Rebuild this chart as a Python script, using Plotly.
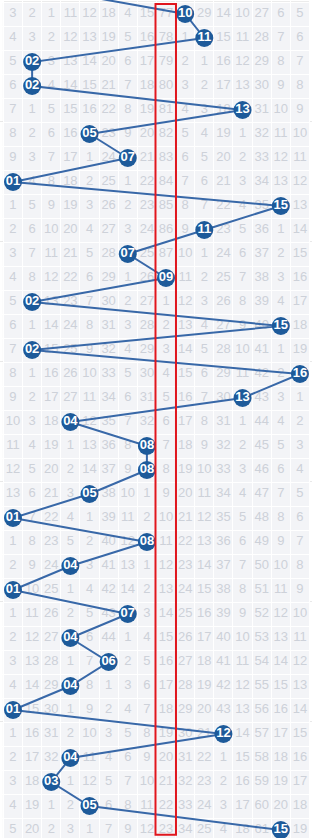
import plotly.graph_objects as go

# Winning number per draw (row 0 is the draw just above the visible area)
prev_draw = 3
draws = [10, 11, 2, 2, 13, 5, 7, 1, 15, 11, 7, 9, 2, 15, 2, 16, 13, 4, 8, 8,
         5, 1, 8, 4, 1, 7, 4, 6, 4, 1, 12, 4, 3, 5, 15]

# Omission counts shown in the cells (0 = drawn, ball shown instead)
grid = [
    [3, 2, 1, 11, 12, 18, 4, 15, 77, 0, 29, 14, 10, 27, 6, 5],
    [4, 3, 2, 12, 13, 19, 5, 16, 78, 1, 0, 15, 11, 28, 7, 6],
    [5, 0, 3, 13, 14, 20, 6, 17, 79, 2, 1, 16, 12, 29, 8, 7],
    [6, 0, 4, 14, 15, 21, 7, 18, 80, 3, 2, 17, 13, 30, 9, 8],
    [7, 1, 5, 15, 16, 22, 8, 19, 81, 4, 3, 18, 0, 31, 10, 9],
    [8, 2, 6, 16, 0, 23, 9, 20, 82, 5, 4, 19, 1, 32, 11, 10],
    [9, 3, 7, 17, 1, 24, 0, 21, 83, 6, 5, 20, 2, 33, 12, 11],
    [0, 4, 8, 18, 2, 25, 1, 22, 84, 7, 6, 21, 3, 34, 13, 12],
    [1, 5, 9, 19, 3, 26, 2, 23, 85, 8, 7, 22, 4, 35, 0, 13],
    [2, 6, 10, 20, 4, 27, 3, 24, 86, 9, 0, 23, 5, 36, 1, 14],
    [3, 7, 11, 21, 5, 28, 0, 25, 87, 10, 1, 24, 6, 37, 2, 15],
    [4, 8, 12, 22, 6, 29, 1, 26, 0, 11, 2, 25, 7, 38, 3, 16],
    [5, 0, 13, 23, 7, 30, 2, 27, 1, 12, 3, 26, 8, 39, 4, 17],
    [6, 1, 14, 24, 8, 31, 3, 28, 2, 13, 4, 27, 9, 40, 0, 18],
    [7, 0, 15, 25, 9, 32, 4, 29, 3, 14, 5, 28, 10, 41, 1, 19],
    [8, 1, 16, 26, 10, 33, 5, 30, 4, 15, 6, 29, 11, 42, 2, 0],
    [9, 2, 17, 27, 11, 34, 6, 31, 5, 16, 7, 30, 0, 43, 3, 1],
    [10, 3, 18, 0, 12, 35, 7, 32, 6, 17, 8, 31, 1, 44, 4, 2],
    [11, 4, 19, 1, 13, 36, 8, 0, 7, 18, 9, 32, 2, 45, 5, 3],
    [12, 5, 20, 2, 14, 37, 9, 0, 8, 19, 10, 33, 3, 46, 6, 4],
    [13, 6, 21, 3, 0, 38, 10, 1, 9, 20, 11, 34, 4, 47, 7, 5],
    [0, 7, 22, 4, 1, 39, 11, 2, 10, 21, 12, 35, 5, 48, 8, 6],
    [1, 8, 23, 5, 2, 40, 12, 0, 11, 22, 13, 36, 6, 49, 9, 7],
    [2, 9, 24, 0, 3, 41, 13, 1, 12, 23, 14, 37, 7, 50, 10, 8],
    [0, 10, 25, 1, 4, 42, 14, 2, 13, 24, 15, 38, 8, 51, 11, 9],
    [1, 11, 26, 2, 5, 43, 0, 3, 14, 25, 16, 39, 9, 52, 12, 10],
    [2, 12, 27, 0, 6, 44, 1, 4, 15, 26, 17, 40, 10, 53, 13, 11],
    [3, 13, 28, 1, 7, 0, 2, 5, 16, 27, 18, 41, 11, 54, 14, 12],
    [4, 14, 29, 0, 8, 1, 3, 6, 17, 28, 19, 42, 12, 55, 15, 13],
    [0, 15, 30, 1, 9, 2, 4, 7, 18, 29, 20, 43, 13, 56, 16, 14],
    [1, 16, 31, 2, 10, 3, 5, 8, 19, 30, 21, 0, 14, 57, 17, 15],
    [2, 17, 32, 0, 11, 4, 6, 9, 20, 31, 22, 1, 15, 58, 18, 16],
    [3, 18, 0, 1, 12, 5, 7, 10, 21, 32, 23, 2, 16, 59, 19, 17],
    [4, 19, 1, 2, 0, 6, 8, 11, 22, 33, 24, 3, 17, 60, 20, 18],
    [5, 20, 2, 3, 1, 7, 9, 12, 23, 34, 25, 4, 18, 61, 0, 19],
]

columns = list(range(1, 17))
highlight_col = 9

n_rows = len(draws)
rows = list(range(1, n_rows + 1))

# cell text
tx, ty, tt = [], [], []
for r, vals in zip(rows, grid):
    for c, v in zip(columns, vals):
        if v != 0:
            tx.append(c)
            ty.append(r)
            tt.append(str(v))

fig = go.Figure()

fig.add_trace(go.Scatter(
    x=tx, y=ty, text=tt, mode="text",
    textfont=dict(family="Liberation Sans, Arial", size=13, color="#cdd1d9"),
    hoverinfo="skip", showlegend=False,
))

# trend line
fig.add_trace(go.Scatter(
    x=[prev_draw] + draws, y=[0] + rows, mode="lines",
    line=dict(color="#3868a8", width=2),
    hoverinfo="skip", showlegend=False,
))

# balls
fig.add_trace(go.Scatter(
    x=draws, y=rows, mode="markers+text",
    text=[f"{d:02d}" for d in draws],
    textposition="middle center",
    marker=dict(size=18, color="#1d5a9a", line=dict(width=0)),
    textfont=dict(family="Liberation Sans Narrow, Arial", size=13,
                  color="white", weight="bold"),
    hoverinfo="skip", showlegend=False,
))

shapes = []
# grid background
shapes.append(dict(type="rect", xref="x", yref="y", x0=0.5, x1=16.5,
                   y0=0.5, y1=n_rows + 0.5, fillcolor="#f3f4f7",
                   line=dict(color="#d9d9d9", width=1), layer="below"))
# 5-row separators
for k in range(5, n_rows, 5):
    shapes.append(dict(type="line", xref="paper", yref="y", x0=0, x1=1,
                       y0=k + 0.5, y1=k + 0.5,
                       line=dict(color="#d2d2d2", width=1), layer="between"))
# highlight column
shapes.append(dict(type="rect", xref="x", yref="y",
                   x0=highlight_col - 0.55, x1=highlight_col + 0.52,
                   y0=0.58, y1=n_rows + 0.2,
                   line=dict(color="#e0161e", width=2), layer="above"))

col_w = 19.13
fig.update_layout(
    width=312, height=838,
    margin=dict(l=0, r=0, t=0, b=0),
    paper_bgcolor="white", plot_bgcolor="white",
    shapes=shapes,
    xaxis=dict(range=[0.5 - 3.43 / col_w, 0.5 + (312 - 3.43) / col_w],
               tickvals=[c + 0.5 for c in range(0, 17)],
               showticklabels=False, showgrid=True, gridcolor="white",
               gridwidth=1, zeroline=False, fixedrange=True),
    yaxis=dict(range=[1 + (838 - 14) / 24, 1 - 14 / 24],
               tickvals=[r + 0.5 for r in range(0, n_rows + 1)],
               showticklabels=False, showgrid=True, gridcolor="white",
               gridwidth=1, zeroline=False, fixedrange=True),
)

fig.write_html("out.html")
